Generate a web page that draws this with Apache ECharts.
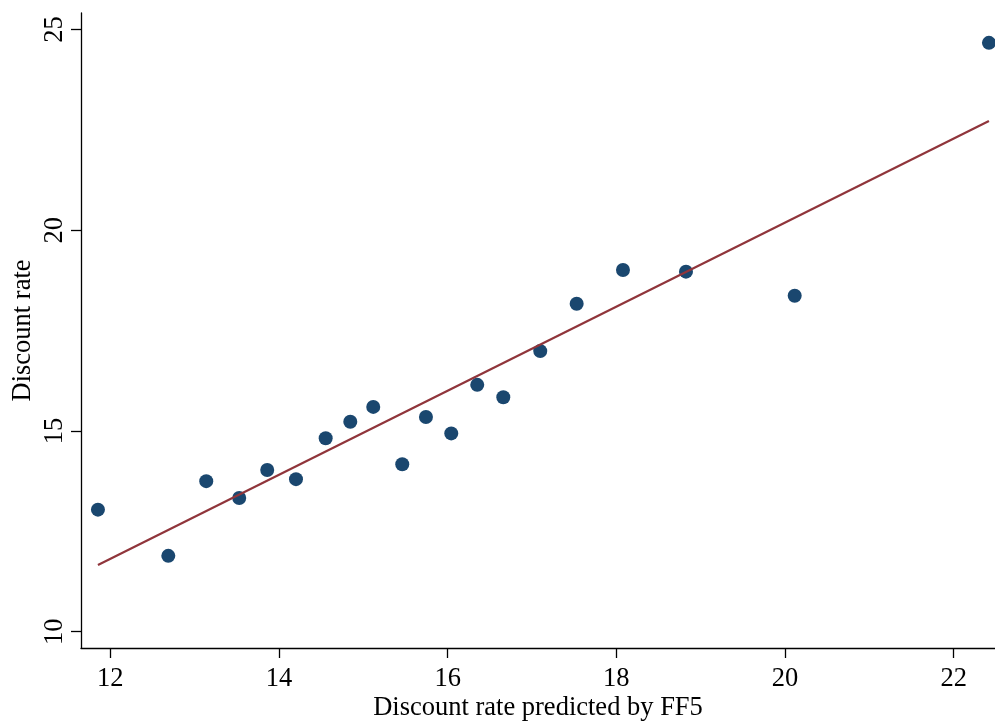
<!DOCTYPE html>
<html>
<head>
<meta charset="utf-8">
<script src="https://cdn.jsdelivr.net/npm/echarts@6/dist/echarts.min.js"></script>
<style>
    html, body { margin: 0; padding: 0; background: #fff; }
    #chart { width: 995px; height: 722px; }
</style>
</head>
<body>
<div id="chart"></div>
<script>
    // points
    var predicted = [11.854, 12.688, 13.138, 13.529, 13.861, 14.202, 14.554, 14.846, 15.118, 15.462,
        15.743, 16.043, 16.351, 16.660, 17.098, 17.530, 18.079, 18.826, 20.115, 22.418]
    var discount = [13.04, 11.89, 13.75, 13.33, 14.03, 13.80, 14.82, 15.23, 15.60, 14.17,
        15.35, 14.94, 16.15, 15.84, 16.99, 18.17, 19.01, 18.97, 18.37, 24.67]
    // fitted line end points
    var fitX = [11.854, 22.418]
    var fitY = [11.66, 22.72]
    var xTicks = [12, 14, 16, 18, 20, 22]
    var yTicks = [10, 15, 20, 25]

    var font = 'Liberation Serif'

    function pairs(xs, ys) {
        var out = []
        for (var i = 0; i < xs.length; i++) {
            out.push([xs[i], ys[i]])
        }
        return out
    }

    var axisLine = { show: true, lineStyle: { color: '#000', width: 1.3 } }

    var option = {
        animation: false,
        backgroundColor: '#fff',
        grid: { left: 81, top: 13, right: 0, bottom: 74, outerBoundsMode: 'none', containLabel: false },
        xAxis: {
            type: 'value',
            min: 11.653,
            max: 22.49,
            name: 'Discount rate predicted by FF5',
            nameLocation: 'middle',
            nameGap: 47,
            nameMoveOverlap: false,
            nameTextStyle: { fontFamily: font, fontSize: 26.5, color: '#000' },
            axisLine: axisLine,
            axisTick: { show: true, length: 10, customValues: xTicks, lineStyle: { color: '#000', width: 1.3 } },
            axisLabel: { customValues: xTicks, fontFamily: font, fontSize: 26.5, color: '#000', margin: 18 },
            splitLine: { show: false }
        },
        yAxis: {
            type: 'value',
            min: 9.594,
            max: 25.413,
            name: 'Discount rate',
            nameLocation: 'middle',
            nameGap: 44,
            nameMoveOverlap: false,
            nameTextStyle: { fontFamily: font, fontSize: 26.5, color: '#000' },
            axisLine: axisLine,
            axisTick: { show: true, length: 10, customValues: yTicks, lineStyle: { color: '#000', width: 1.3 } },
            axisLabel: { customValues: yTicks, rotate: 90, fontFamily: font, fontSize: 26.5, color: '#000', margin: 12 },
            splitLine: { show: false }
        },
        series: [
            {
                type: 'scatter',
                data: pairs(predicted, discount),
                symbolSize: 14,
                itemStyle: { color: '#1a476f', opacity: 1 }
            },
            {
                type: 'line',
                data: pairs(fitX, fitY),
                showSymbol: false,
                lineStyle: { color: '#90353b', width: 2.2 }
            }
        ]
    }

    echarts.init(document.getElementById('chart')).setOption(option)
</script>
</body>
</html>
